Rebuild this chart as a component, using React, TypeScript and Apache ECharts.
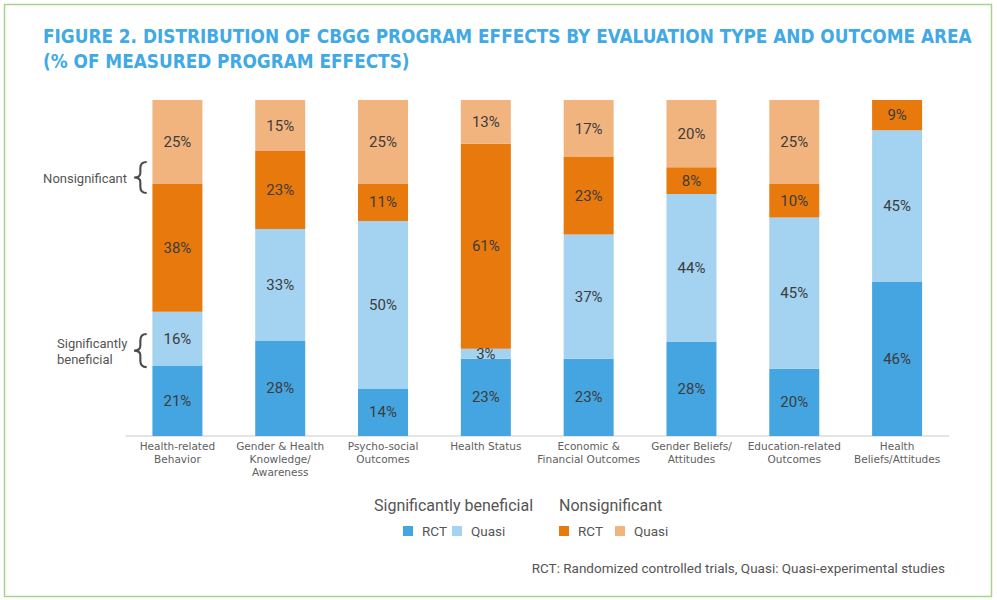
import React, { useEffect, useRef } from "react";
import * as echarts from "echarts";

const categories = [
  "Health-related\nBehavior",
  "Gender & Health\nKnowledge/\nAwareness",
  "Psycho-social\nOutcomes",
  "Health Status",
  "Economic &\nFinancial Outcomes",
  "Gender Beliefs/\nAttitudes",
  "Education-related\nOutcomes",
  "Health\nBeliefs/Attitudes",
];
const sigRCT = [21, 28.3, 14, 23, 23, 28, 20, 46];
const sigQuasi = [16, 33.3, 50, 3, 37, 44, 45, 45];
const nonRCT = [38, 23.2, 11, 61, 23, 8, 10, 9];
const nonQuasi = [25, 15.2, 25, 13, 17, 20, 25, 0];

const seriesNames = [
  "Significantly beneficial RCT",
  "Significantly beneficial Quasi",
  "Nonsignificant RCT",
  "Nonsignificant Quasi",
];
const seriesColors = ["#45A5E1", "#A4D2F1", "#E8790C", "#F2B47F"];
const seriesData = [sigRCT, sigQuasi, nonRCT, nonQuasi];

const TITLE =
  "FIGURE 2. DISTRIBUTION OF CBGG PROGRAM EFFECTS BY EVALUATION TYPE AND OUTCOME AREA\n(% OF MEASURED PROGRAM EFFECTS)";
const FOOTNOTE = "RCT: Randomized controlled trials, Quasi: Quasi-experimental studies";

const BRACE_D =
  "M13,0 C9,0 7,2 7,6 L7,11 C7,14 5,15.5 1,15.5 C5,15.5 7,17 7,20 L7,25 C7,29 9,31 13,31";

let registered = false;

export default function App() {
  const ref = useRef<HTMLDivElement>(null);
  useEffect(() => {
    if (!ref.current) return;
    if (!registered) {
      echarts.graphic.registerShape("brace", echarts.graphic.extendPath(BRACE_D, {}));
      registered = true;
    }
    const chart = echarts.init(ref.current, null, { renderer: "svg" });
    const font = "Roboto";
    const legendText = { fontFamily: font, fontSize: 13.5, color: "#555", padding: [0, 0, 0, 4] };
    const option: any = {
      animation: false,
      backgroundColor: "#ffffff",
      title: {
        text: TITLE,
        left: 38,
        top: 19,
        textStyle: {
          fontFamily: "DejaVu Sans Condensed",
          fontWeight: "bold",
          fontSize: 18.8,
          lineHeight: 25,
          color: "#40A9E6",
        },
      },
      grid: { left: 126, right: 48.5, top: 100, bottom: 164 },
      xAxis: {
        type: "category",
        data: categories,
        axisTick: { show: false },
        axisLine: { lineStyle: { color: "#DCDCDC", width: 1.5 } },
        axisLabel: {
          interval: 0,
          margin: 4,
          fontFamily: "DejaVu Sans",
          fontSize: 10.5,
          lineHeight: 12.8,
          color: "#606060",
        },
      },
      yAxis: { type: "value", min: 0, max: 100, show: false },
      legend: [
        {
          data: [seriesNames[0], seriesNames[1]],
          left: 403,
          top: 524,
          padding: 0,
          icon: "rect",
          itemWidth: 10,
          itemHeight: 10,
          itemGap: 5,
          selectedMode: false,
          formatter: (n: string) => n.split(" ").pop(),
          textStyle: legendText,
        },
        {
          data: [seriesNames[2], seriesNames[3]],
          left: 559,
          top: 524,
          padding: 0,
          icon: "rect",
          itemWidth: 10,
          itemHeight: 10,
          itemGap: 12,
          selectedMode: false,
          formatter: (n: string) => n.split(" ").pop(),
          textStyle: legendText,
        },
      ],
      series: seriesNames.map((name, i) => ({
        name,
        type: "bar",
        stack: "total",
        barWidth: 50,
        data: seriesData[i],
        itemStyle: { color: seriesColors[i] },
        label: {
          show: true,
          position: "inside",
          fontFamily: font,
          fontSize: 15,
          color: "#3C3C3C",
          formatter: (p: any) => (p.value > 0 ? Math.round(p.value) + "%" : ""),
        },
      })),
      graphic: [
        {
          type: "rect",
          shape: { x: 4.5, y: 4.5, width: 987, height: 592 },
          style: { fill: "none", stroke: "#AAD28F", lineWidth: 1.5 },
          silent: true,
        },
        {
          type: "text",
          x: 127,
          y: 178,
          style: {
            text: "Nonsignificant",
            align: "right",
            verticalAlign: "middle",
            fontFamily: font,
            fontSize: 13,
            fill: "#555",
          },
        },
        {
          type: "text",
          x: 57,
          y: 351,
          style: {
            text: "Significantly\nbeneficial",
            align: "left",
            verticalAlign: "middle",
            fontFamily: font,
            fontSize: 13,
            lineHeight: 16,
            fill: "#555",
          },
        },
        {
          type: "brace",
          x: 133,
          y: 162,
          scaleX: 1.05,
          scaleY: 1,
          style: { fill: "none", stroke: "#4A4A4A", lineWidth: 2 },
        },
        {
          type: "brace",
          x: 133,
          y: 334,
          scaleX: 1.05,
          scaleY: 1.07,
          style: { fill: "none", stroke: "#4A4A4A", lineWidth: 2 },
        },
        {
          type: "text",
          x: 374,
          y: 505,
          style: {
            text: "Significantly beneficial",
            verticalAlign: "middle",
            fontFamily: font,
            fontSize: 16,
            fill: "#555",
          },
        },
        {
          type: "text",
          x: 559,
          y: 505,
          style: {
            text: "Nonsignificant",
            verticalAlign: "middle",
            fontFamily: font,
            fontSize: 16,
            fill: "#555",
          },
        },
        {
          type: "text",
          x: 945,
          y: 568,
          style: {
            text: FOOTNOTE,
            align: "right",
            verticalAlign: "middle",
            fontFamily: font,
            fontSize: 13.5,
            fill: "#555",
          },
        },
      ],
    };
    chart.setOption(option);
    return () => chart.dispose();
  }, []);
  return (
    <div
      ref={ref}
      style={{ position: "fixed", left: 0, top: 0, width: 997, height: 600 }}
    />
  );
}
